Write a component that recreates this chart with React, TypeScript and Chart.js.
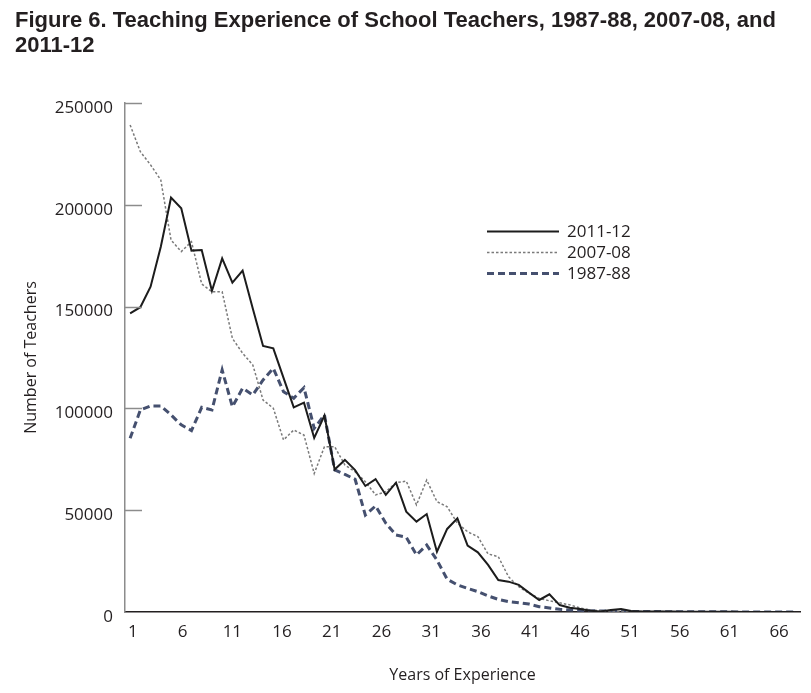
import { useEffect, useRef } from "react";
import { Chart, registerables } from "chart.js";

Chart.register(...registerables);

const years = [
  1, 2, 3, 4, 5, 6, 7, 8, 9, 10, 11, 12, 13, 14, 15, 16, 17, 18, 19, 20, 21, 22,
  23, 24, 25, 26, 27, 28, 29, 30, 31, 32, 33, 34, 35, 36, 37, 38, 39, 40, 41, 42,
  43, 44, 45, 46, 47, 48, 49, 50, 51, 52, 53, 54, 55, 56, 57, 58, 59, 60, 61, 62,
  63, 64, 65, 66,
];

const teachers201112 = [
  146700, 149700, 159800, 179400, 203500, 198300, 177500, 177800, 157800, 173700,
  161800, 167700, 149000, 130700, 129500, 115000, 100500, 102800, 85500, 96500,
  70000, 74700, 69700, 61900, 65300, 57500, 63500, 49300, 44400, 48100, 29600,
  40800, 46000, 32600, 29300, 23100, 15700, 14900, 13300, 9500, 5900, 8700, 3400,
  2100, 1500, 600, 300, 1000, 1500, 500, 300, 200, 200, 200, 100, 100, 100, 100,
  100, 100, 50, 50, 50, 50, 50, 50,
];

const teachers200708 = [
  239200, 226100, 219600, 212200, 182700, 177000, 181900, 161100, 157300, 157300,
  134400, 127100, 121300, 104100, 100100, 84500, 89400, 86900, 68000, 81200,
  81200, 72200, 68900, 64000, 57500, 59100, 63500, 64300, 52600, 64800, 54200,
  51700, 43600, 39400, 37000, 28500, 27200, 17300, 12400, 9200, 6700, 5500, 4500,
  3500, 2000, 1000, 600, 400, 300, 300, 200, 200, 200, 100, 100, 100, 100, 100,
  100, 50, 50, 50, 50, 50, 50, 50,
];

const teachers198788 = [
  85300, 99200, 101200, 101200, 96800, 91900, 89100, 100500, 99200, 118900,
  100800, 109900, 106600, 114000, 119700, 108200, 105000, 110200, 90200, 96800,
  69800, 67600, 65200, 47600, 52100, 43600, 37800, 36700, 28000, 32900, 25500,
  16100, 13300, 11600, 10000, 7900, 6200, 5100, 4600, 3900, 2600, 2000, 1300,
  1000, 800, 600, 500, 400, 300, 300, 200, 200, 200, 100, 100, 100, 100, 100, 100,
  50, 50, 50, 50, 50, 50, 50,
];

const xTickLabels = [1, 6, 11, 16, 21, 26, 31, 36, 41, 46, 51, 56, 61, 66];
const yTickValues = [0, 50000, 100000, 150000, 200000, 250000];

const titleLines = [
  "Figure 6. Teaching Experience of School Teachers, 1987-88, 2007-08, and",
  "2011-12",
];

const TEXT = "#231f20";
const FONT = '"Open Sans", "DejaVu Sans", sans-serif';

const innerTicksAndLegend = {
  id: "innerTicksAndLegend",
  afterDraw(chart: any) {
    const { ctx, chartArea } = chart;
    const yScale = chart.scales.y;
    ctx.save();
    ctx.strokeStyle = "#8c8c8c";
    ctx.lineWidth = 1.5;
    ctx.setLineDash([]);
    yTickValues.forEach((v) => {
      if (v === 0) return;
      const py = Math.round(yScale.getPixelForValue(v)) + 0.5;
      ctx.beginPath();
      ctx.moveTo(chartArea.left, py);
      ctx.lineTo(chartArea.left + 17, py);
      ctx.stroke();
    });
    // legend
    const rows = [231, 252, 273];
    chart.data.datasets.forEach((ds: any, i: number) => {
      const y = rows[i] + 0.5;
      ctx.beginPath();
      ctx.strokeStyle = ds.borderColor;
      ctx.lineWidth = ds.borderWidth;
      ctx.setLineDash(ds.borderDash || []);
      ctx.moveTo(487, y);
      ctx.lineTo(559, y);
      ctx.stroke();
      ctx.setLineDash([]);
      ctx.fillStyle = TEXT;
      ctx.font = `17px ${FONT}`;
      ctx.textBaseline = "middle";
      ctx.textAlign = "left";
      ctx.fillText(ds.label, 567, rows[i] + 1);
    });
    ctx.restore();
  },
};

export default function App() {
  const ref = useRef<HTMLCanvasElement | null>(null);

  useEffect(() => {
    if (!ref.current) return;
    const toPts = (arr: number[]) => years.map((x, i) => ({ x, y: arr[i] }));
    const chart = new Chart(ref.current, {
      type: "line",
      data: {
        datasets: [
          {
            label: "2011-12",
            data: toPts(teachers201112),
            borderColor: "#1c1c1c",
            borderWidth: 2,
            pointRadius: 0,
            tension: 0,
            xAxisID: "x",
            yAxisID: "y",
          },
          {
            label: "2007-08",
            data: toPts(teachers200708),
            borderColor: "#7a7a7a",
            borderWidth: 1.5,
            borderDash: [2.5, 2],
            pointRadius: 0,
            tension: 0,
            xAxisID: "x",
            yAxisID: "y",
          },
          {
            label: "1987-88",
            data: toPts(teachers198788),
            borderColor: "#45506f",
            borderWidth: 3,
            borderDash: [7, 4],
            pointRadius: 0,
            tension: 0,
            xAxisID: "x",
            yAxisID: "y",
          },
        ],
      },
      options: {
        animation: false,
        responsive: true,
        maintainAspectRatio: false,
        layout: { padding: { left: 15, right: 11, top: 0, bottom: 0 } },
        plugins: {
          legend: { display: false },
          tooltip: { enabled: false },
          title: {
            display: true,
            text: titleLines,
            align: "start",
            color: TEXT,
            font: {
              family: '"Liberation Sans", Arial, sans-serif',
              size: 22,
              weight: "bold",
              lineHeight: 24.4 / 22,
            },
            padding: { top: 9, bottom: 45.2 },
          },
        },
        scales: {
          x: {
            type: "linear",
            axis: "x",
            min: 0.5,
            max: 66.5,
            display: false,
          },
          xLabels: {
            type: "linear",
            axis: "x",
            position: "bottom",
            min: 0.2,
            max: 68.1,
            afterBuildTicks: (s: any) => {
              s.ticks = xTickLabels.map((v) => ({ value: v }));
            },
            afterFit: (s: any) => {
              s.height = 81;
            },
            ticks: {
              autoSkip: false,
              maxRotation: 0,
              padding: 10,
              color: TEXT,
              font: { family: FONT, size: 17 },
              callback: (v: any) => String(v),
            },
            grid: { display: false, drawTicks: false },
            border: { display: true, color: "#231f20", width: 1.5 },
            title: {
              display: true,
              text: "Years of Experience",
              color: TEXT,
              font: { family: FONT, size: 16 },
              padding: { top: 0, bottom: 8.4 },
            },
          },
          y: {
            type: "linear",
            min: 0,
            max: 250000,
            afterBuildTicks: (s: any) => {
              s.ticks = yTickValues.map((v) => ({ value: v }));
            },
            afterFit: (s: any) => {
              s.width = 110;
            },
            ticks: {
              padding: 12,
              labelOffset: 5,
              color: TEXT,
              font: { family: FONT, size: 17 },
              callback: (v: any) => String(v),
            },
            grid: { display: false, drawTicks: false },
            border: { display: true, color: "#8c8c8c", width: 1.5 },
            title: {
              display: true,
              text: "Number of Teachers",
              color: TEXT,
              font: { family: FONT, size: 16 },
              padding: { top: 6.4, bottom: 0 },
            },
          },
        },
      },
      plugins: [innerTicksAndLegend],
    });
    return () => chart.destroy();
  }, []);

  return (
    <div style={{ position: "absolute", left: 0, top: 0, width: 811, height: 693, background: "#fff" }}>
      <canvas ref={ref} />
    </div>
  );
}
